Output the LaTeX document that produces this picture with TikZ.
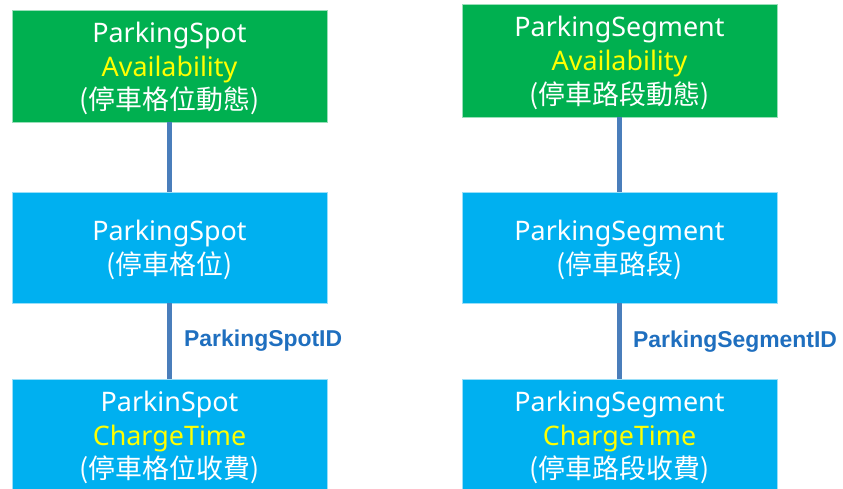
\documentclass[tikz,border=0pt]{standalone}
\usepackage{fontspec}
\setmainfont{Noto Sans}
\newfontfamily\cjk{Noto Sans CJK TC}
\newfontfamily\labfont{Liberation Sans}
\definecolor{boxgreen}{HTML}{00B050}
\definecolor{boxblue}{HTML}{00B0F0}
\definecolor{hiyellow}{HTML}{FFFF00}
\definecolor{linkblue}{HTML}{4A7EBB}
\definecolor{labblue}{HTML}{1F6FBF}
\begin{document}
\begin{tikzpicture}[x=1bp,y=-1bp,
  entity/.style={rectangle, minimum width=315bp, inner sep=0pt,
    draw=white!60!boxblue, line width=0.6bp},
  greenbox/.style={entity, fill=boxgreen, draw=white!60!boxgreen},
  bluebox/.style={entity, fill=boxblue},
  boxtext/.style={inner sep=0pt, text=white, align=center, font=\fontsize{27}{34}\selectfont},
  link/.style={draw=linkblue, line width=4.5bp},
  keylabel/.style={anchor=west, inner sep=0pt, text=labblue, font=\labfont\bfseries\fontsize{23}{26}\selectfont}
]
\useasboundingbox (0,0) rectangle (843,489);
\clip (0,0) rectangle (843,489);
\fill[white] (0,0) rectangle (843,489);

% left column
\node[greenbox, minimum height=112bp] (psa) at (169.5,66) {};
\node[bluebox, minimum height=111bp] (ps) at (169.5,247.5) {};
\node[bluebox, minimum height=112bp] (psc) at (169.5,435) {};
\node[boxtext] (psa-t) at ([yshift=-2.5bp]psa.center) {ParkingSpot\\\textcolor{hiyellow}{Availability}\\{\cjk (停車格位動態)}};
\node[boxtext] (ps-t) at ([yshift=-2bp]ps.center) {ParkingSpot\\{\cjk (停車格位)}};
\node[boxtext] (psc-t) at ([yshift=-2.5bp]psc.center) {ParkinSpot\\\textcolor{hiyellow}{ChargeTime}\\{\cjk (停車格位收費)}};

% right column
\node[greenbox, minimum height=113bp] (sga) at (619.5,60.5) {};
\node[bluebox, minimum height=111bp] (sg) at (619.5,247.5) {};
\node[bluebox, minimum height=112bp] (sgc) at (619.5,435) {};
\node[boxtext] (sga-t) at ([yshift=-2.5bp]sga.center) {ParkingSegment\\\textcolor{hiyellow}{Availability}\\{\cjk (停車路段動態)}};
\node[boxtext] (sg-t) at ([yshift=-2bp]sg.center) {ParkingSegment\\{\cjk (停車路段)}};
\node[boxtext] (sgc-t) at ([yshift=-2.5bp]sgc.center) {ParkingSegment\\\textcolor{hiyellow}{ChargeTime}\\{\cjk (停車路段收費)}};

% connectors
\draw[link] (psa.south) -- (ps.north);
\draw[link] (ps.south) -- (psc.north);
\draw[link] (sga.south) -- (sg.north);
\draw[link] (sg.south) -- (sgc.north);

% key labels
\node[keylabel] (psid) at (184,341) {ParkingSpotID};
\node[keylabel] (sgid) at (633,342) {ParkingSegmentID};
\end{tikzpicture}
\end{document}
